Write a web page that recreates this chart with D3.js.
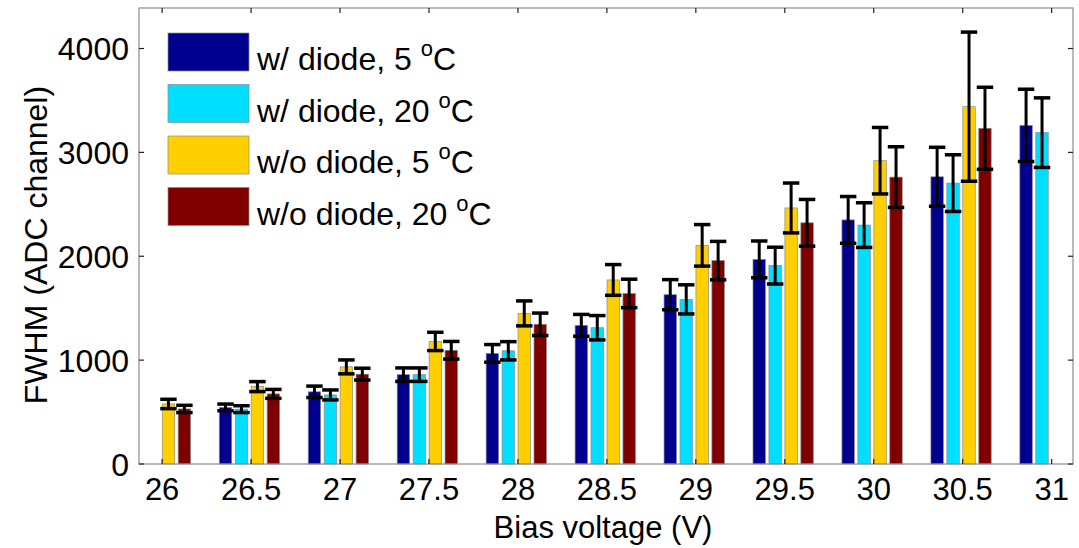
<!DOCTYPE html>
<html>
<head>
<meta charset="utf-8">
<script src="https://cdn.jsdelivr.net/npm/d3@7"></script>
<style>
  html, body { margin: 0; padding: 0; background: #fff; }
  svg { display: block; font-family: "Liberation Sans", Arial, Helvetica, sans-serif; }
</style>
</head>
<body>
<svg id="chart" width="1079" height="548"></svg>
<script>
// Bias voltages (group positions on the x axis)
const voltages = [26, 26.5, 27, 27.5, 28, 28.5, 29, 29.5, 30, 30.5, 31];
const xTickLabels = ["26", "26.5", "27", "27.5", "28", "28.5", "29", "29.5", "30", "30.5", "31"];
const yTicks = [0, 1000, 2000, 3000, 4000];

// Series definitions
const seriesKeys = ["d5", "d20", "n5", "n20"];
const seriesLabels = ["w/ diode, 5 ", "w/ diode, 20 ", "w/o diode, 5 ", "w/o diode, 20 "];
const seriesColors = ["#00008f", "#00dfff", "#ffcf00", "#800000"];

// FWHM values (ADC channel); null = not measured
const fwhmDiode5   = [null, 545, 695, 860, 1065, 1335, 1630, 1970, 2350, 2765, 3260];
const fwhmDiode20  = [null, 528, 665, 860, 1090, 1312, 1585, 1910, 2300, 2704, 3190];
const fwhmNoDiode5 = [578, 745, 935, 1180, 1450, 1772, 2105, 2465, 2920, 3440, null];
const fwhmNoDiode20= [530, 675, 865, 1095, 1345, 1642, 1958, 2322, 2762, 3232, null];

// Error bar half-lengths
const errDiode5   = [null, 32, 55, 65, 85, 105, 145, 177, 225, 284, 348];
const errDiode20  = [null, 33, 48, 65, 88, 117, 140, 177, 215, 273, 335];
const errNoDiode5 = [45, 48, 67, 88, 120, 148, 200, 240, 320, 718, null];
const errNoDiode20= [35, 43, 57, 85, 108, 137, 185, 225, 292, 395, null];

const seriesValues = [fwhmDiode5, fwhmDiode20, fwhmNoDiode5, fwhmNoDiode20];
const seriesErrors = [errDiode5, errDiode20, errNoDiode5, errNoDiode20];

const svg = d3.select("#chart");

const plot = { left: 139, right: 1073, top: 8, bottom: 464 };

const x = d3.scaleLinear().domain([25.87, 31.12]).range([plot.left, plot.right]);
const y = d3.scaleLinear().domain([0, 4390]).range([plot.bottom, plot.top]);
const inner = d3.scaleBand().domain(seriesKeys).range([-31.8, 28.5]).paddingInner(0.22);

// Flatten into bar records
const bars = [];
seriesKeys.forEach((k, si) => {
  voltages.forEach((v, vi) => {
    const val = seriesValues[si][vi];
    if (val == null) return;
    bars.push({ key: k, si, v, value: val, err: seriesErrors[si][vi] });
  });
});

// Bars
svg.append("g").selectAll("rect").data(bars).join("rect")
  .attr("x", d => x(d.v) + inner(d.key))
  .attr("width", inner.bandwidth())
  .attr("y", d => y(d.value))
  .attr("height", d => y(0) - y(d.value))
  .attr("fill", d => seriesColors[d.si])
  .attr("stroke", "#8a8a8a")
  .attr("stroke-width", 0.7);

// Error bars
const eb = svg.append("g").attr("stroke", "#000");
const cx = d => x(d.v) + inner(d.key) + inner.bandwidth() / 2;
const capHalf = inner.bandwidth() / 2 + 2;
eb.selectAll("line.v").data(bars).join("line").attr("class", "v")
  .attr("x1", cx).attr("x2", cx)
  .attr("y1", d => y(d.value + d.err)).attr("y2", d => y(d.value - d.err))
  .attr("stroke-width", 3);
eb.selectAll("line.t").data(bars).join("line").attr("class", "t")
  .attr("x1", d => cx(d) - capHalf).attr("x2", d => cx(d) + capHalf)
  .attr("y1", d => y(d.value + d.err)).attr("y2", d => y(d.value + d.err))
  .attr("stroke-width", 3.5);
eb.selectAll("line.b").data(bars).join("line").attr("class", "b")
  .attr("x1", d => cx(d) - capHalf).attr("x2", d => cx(d) + capHalf)
  .attr("y1", d => y(d.value - d.err)).attr("y2", d => y(d.value - d.err))
  .attr("stroke-width", 3.5);

// Axes box
svg.append("rect")
  .attr("x", plot.left).attr("y", plot.top)
  .attr("width", plot.right - plot.left).attr("height", plot.bottom - plot.top)
  .attr("fill", "none").attr("stroke", "#8c8c8c").attr("stroke-width", 1.2);

// Inward ticks on all four sides
const tickLen = 5;
const tk = svg.append("g").attr("stroke", "#222").attr("stroke-width", 1.2);
voltages.forEach(v => {
  tk.append("line").attr("x1", x(v)).attr("x2", x(v)).attr("y1", plot.bottom).attr("y2", plot.bottom - tickLen);
  tk.append("line").attr("x1", x(v)).attr("x2", x(v)).attr("y1", plot.top).attr("y2", plot.top + tickLen);
});
yTicks.forEach(t => {
  tk.append("line").attr("x1", plot.left).attr("x2", plot.left + tickLen).attr("y1", y(t)).attr("y2", y(t));
  tk.append("line").attr("x1", plot.right).attr("x2", plot.right - tickLen).attr("y1", y(t)).attr("y2", y(t));
});

// Tick labels
svg.append("g").selectAll("text").data(voltages).join("text")
  .attr("x", d => x(d)).attr("y", 500)
  .attr("text-anchor", "middle").attr("font-size", 31).attr("fill", "#000")
  .text((d, i) => xTickLabels[i]);

svg.append("g").selectAll("text").data(yTicks).join("text")
  .attr("x", plot.left - 10).attr("y", d => y(d))
  .attr("dy", "0.36em")
  .attr("text-anchor", "end").attr("font-size", 32).attr("fill", "#000")
  .text(d => d);

// Axis titles
svg.append("text")
  .attr("x", 603).attr("y", 538)
  .attr("text-anchor", "middle").attr("font-size", 31)
  .text("Bias voltage (V)");

svg.append("text")
  .attr("transform", `translate(47, 245) rotate(-90)`)
  .attr("text-anchor", "middle").attr("font-size", 32)
  .text("FWHM (ADC channel)");

// Legend
const legend = svg.append("g");
const legendRow = d3.scaleLinear().domain([0, 1]).range([33, 84.5]);
seriesKeys.forEach((k, i) => {
  const gy = legendRow(i);
  legend.append("rect")
    .attr("x", 168).attr("y", gy).attr("width", 81).attr("height", 38)
    .attr("fill", seriesColors[i]).attr("stroke", "#8a8a8a").attr("stroke-width", 0.7);
  const t = legend.append("text")
    .attr("x", 257).attr("y", gy + 37)
    .attr("font-size", 32).attr("fill", "#000");
  t.append("tspan").text(seriesLabels[i]);
  t.append("tspan").attr("font-size", 22).attr("dy", -14).text("o");
  t.append("tspan").attr("dy", 14).text("C");
});
</script>
</body>
</html>
